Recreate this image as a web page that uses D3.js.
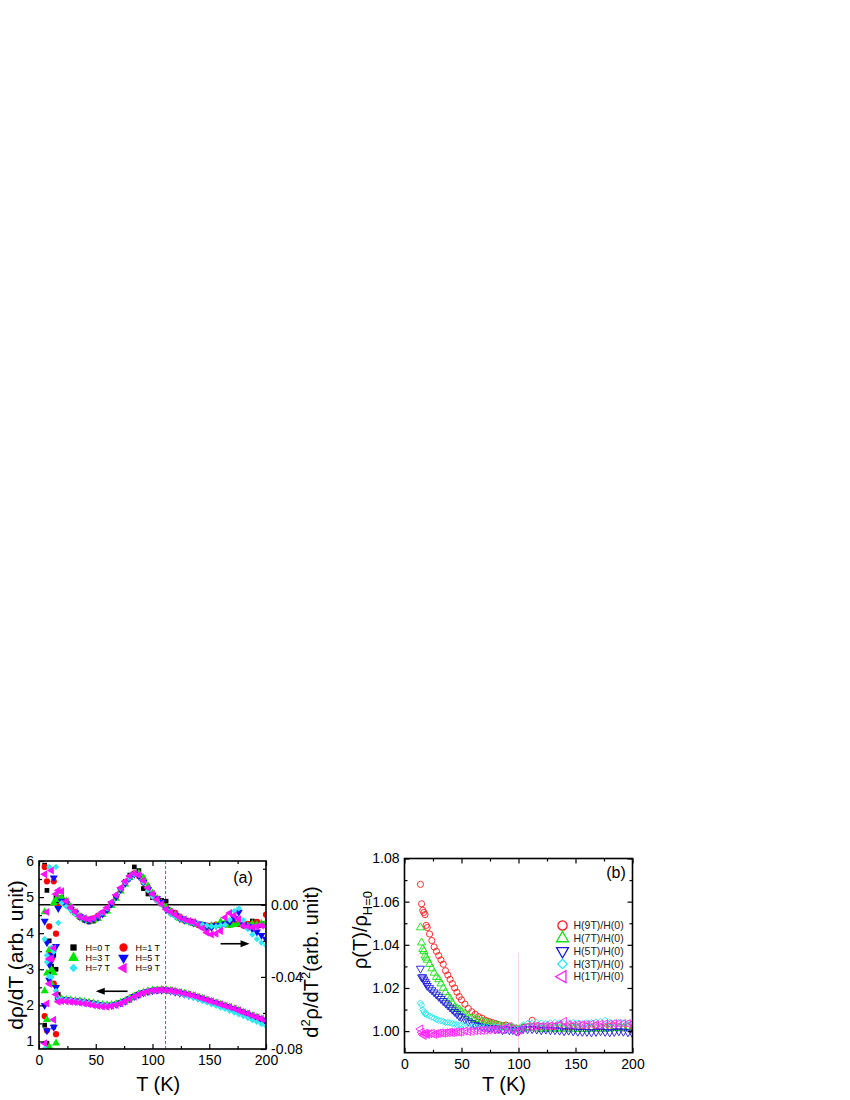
<!DOCTYPE html>
<html>
<head>
<meta charset="utf-8">
<script src="https://cdn.jsdelivr.net/npm/d3@7"></script>
<style>
  body { margin: 0; background: #fff; }
  svg { display: block; font-family: "Liberation Sans", Arial, sans-serif; }
</style>
</head>
<body>
<div id="chart"></div>
<script>
// ---------- panel (a): drho/dT (left axis) and d2rho/dT2 (right axis) ----------
const tempA = [5, 7, 9, 11, 13, 15, 17, 20, 24, 28, 32, 36, 40, 44, 48, 52, 56, 60, 64, 68, 72, 76, 80, 84, 88, 92, 96,
  100, 104, 108, 112, 116, 120, 124, 128, 132, 136, 140, 144, 148, 152, 156, 160, 164, 168, 172, 176, 180, 184, 188, 192, 196, 200];

const dRhoH0 = [1.45, 0.95, 2.9, 3.5, 1.4, 3.0, 2.3,
  2.17, 2.16, 2.14, 2.13, 2.12, 2.10, 2.08, 2.06, 2.03, 2.01, 2.00, 2.01, 2.04, 2.08, 2.13, 2.19, 2.26, 2.31, 2.36, 2.39,
  2.41, 2.42, 2.43, 2.42, 2.40, 2.37, 2.35, 2.32, 2.29, 2.25, 2.21, 2.17, 2.13, 2.09, 2.05, 2.01, 1.97, 1.93, 1.88, 1.84,
  1.79, 1.74, 1.69, 1.65, 1.60, 1.55];
const dRhoH1 = [1.7, 1.3, 3.4, 3.3, 2.6, 1.2, 2.2,
  2.16, 2.15, 2.14, 2.12, 2.11, 2.09, 2.07, 2.05, 2.02, 2.00, 2.00, 2.01, 2.03, 2.07, 2.12, 2.19, 2.25, 2.31, 2.35, 2.39,
  2.41, 2.42, 2.43, 2.42, 2.40, 2.38, 2.35, 2.32, 2.29, 2.26, 2.22, 2.18, 2.14, 2.10, 2.06, 2.02, 1.98, 1.94, 1.89, 1.85,
  1.80, 1.75, 1.70, 1.66, 1.61, 1.57];
const dRhoH3 = [2.4, 1.6, 0.85, 2.6, 2.9, 0.95, 2.2,
  2.18, 2.16, 2.15, 2.13, 2.12, 2.10, 2.08, 2.06, 2.04, 2.02, 2.01, 2.02, 2.04, 2.08, 2.13, 2.20, 2.26, 2.32, 2.36, 2.40,
  2.42, 2.43, 2.44, 2.43, 2.41, 2.39, 2.36, 2.33, 2.30, 2.27, 2.23, 2.19, 2.15, 2.11, 2.07, 2.03, 1.99, 1.95, 1.90, 1.86,
  1.81, 1.76, 1.71, 1.67, 1.62, 1.58];
const dRhoH5 = [2.0, 1.3, 2.7, 3.3, 1.4, 2.5, 2.15,
  2.16, 2.15, 2.13, 2.12, 2.10, 2.09, 2.07, 2.04, 2.02, 2.00, 1.99, 2.00, 2.03, 2.07, 2.12, 2.18, 2.25, 2.30, 2.35, 2.38,
  2.41, 2.42, 2.42, 2.42, 2.40, 2.37, 2.34, 2.31, 2.28, 2.25, 2.21, 2.17, 2.13, 2.09, 2.05, 2.01, 1.97, 1.92, 1.88, 1.83,
  1.78, 1.73, 1.68, 1.64, 1.59, 1.54];
const dRhoH7 = [0.8, 3.2, 2.8, 3.6, 3.5, 2.4, 2.2,
  2.17, 2.16, 2.14, 2.13, 2.11, 2.10, 2.07, 2.05, 2.03, 2.01, 2.00, 2.01, 2.03, 2.07, 2.12, 2.19, 2.25, 2.31, 2.35, 2.39,
  2.41, 2.42, 2.42, 2.41, 2.39, 2.36, 2.33, 2.29, 2.25, 2.21, 2.17, 2.12, 2.08, 2.03, 1.99, 1.94, 1.90, 1.85, 1.80, 1.75,
  1.70, 1.65, 1.59, 1.54, 1.48, 1.43];
const dRhoH9 = [0.95, 2.05, 2.6, 3.3, 1.6, 2.3, 2.1,
  2.12, 2.11, 2.10, 2.09, 2.07, 2.05, 2.03, 2.00, 1.98, 1.97, 1.96, 1.98, 2.01, 2.05, 2.11, 2.17, 2.24, 2.30, 2.34, 2.38,
  2.41, 2.42, 2.43, 2.42, 2.41, 2.38, 2.36, 2.33, 2.30, 2.27, 2.23, 2.19, 2.15, 2.11, 2.07, 2.03, 1.99, 1.95, 1.91, 1.86,
  1.81, 1.77, 1.72, 1.67, 1.63, 1.58];

const d2RhoH0 = [0.022, 0.008, -0.02, -0.034, -0.028, 0.004, 0.002,
  0.004, 0.0015, -0.002, -0.0045, -0.007, -0.0085, -0.0095, -0.009, -0.0075, -0.0055,
  -0.003, 0.0005, 0.0045, 0.0085, 0.013, 0.0165, 0.021, 0.019, 0.009, 0.006,
  0.004, 0.0035, 0.0025, 0.002, -0.0045, -0.006, -0.007, -0.0085, -0.009, -0.0095,
  -0.0105, -0.012, -0.013, -0.012, -0.0115, -0.011, -0.0105, -0.011, -0.0105, -0.011,
  -0.0115, -0.011, -0.009, -0.0095, -0.0115, -0.0105];
const d2RhoH1 = [0.021, 0.013, -0.012, -0.03, 0.013, -0.016, -0.001,
  0.003, 0.0015, -0.002, -0.004, -0.0065, -0.0075, -0.008, -0.0075, -0.006, -0.0045,
  -0.0025, 0.0005, 0.0045, 0.0085, 0.0125, 0.0155, 0.0175, 0.016, 0.0125, 0.0085,
  0.005, 0.0025, 0.0005, -0.0015, -0.0035, -0.0045, -0.0065, -0.0085, -0.009, -0.0095,
  -0.011, -0.011, -0.0115, -0.0115, -0.011, -0.011, -0.0105, -0.011, -0.0105, -0.0105,
  -0.0115, -0.0105, -0.0105, -0.0095, -0.0105, -0.0055];
const d2RhoH3 = [-0.004, -0.038, -0.025, -0.036, 0.001, 0.0028, 0.004,
  0.004, 0.002, -0.001, -0.0045, -0.0065, -0.008, -0.009, -0.0085, -0.0075, -0.0055,
  -0.0035, -0.0005, 0.0035, 0.0075, 0.0115, 0.015, 0.017, 0.0175, 0.015, 0.0105,
  0.0065, 0.0035, 0.001, -0.0015, -0.0035, -0.0055, -0.0075, -0.0085, -0.0095, -0.0105,
  -0.011, -0.0115, -0.0125, -0.0115, -0.0115, -0.0095, -0.0105, -0.0115, -0.011, -0.0105,
  -0.011, -0.0115, -0.0105, -0.011, -0.0105, -0.01];
const d2RhoH5 = [-0.009, -0.021, -0.033, -0.028, 0.015, -0.023, -0.002,
  0.002, 0.0005, -0.0025, -0.0045, -0.0065, -0.008, -0.0085, -0.008, -0.007, -0.005,
  -0.0025, 0.0005, 0.0045, 0.0085, 0.012, 0.015, 0.017, 0.016, 0.0125, 0.0085,
  0.0055, 0.0035, 0.0015, -0.0025, -0.0045, -0.006, -0.0075, -0.0085, -0.009, -0.01,
  -0.0105, -0.011, -0.012, -0.0125, -0.0115, -0.0115, -0.0105, -0.0095, -0.0075, -0.004,
  -0.011, -0.012, -0.0135, -0.015, -0.017, -0.019];
const d2RhoH7 = [-0.019, -0.028, 0.021, -0.04, -0.026, 0.021, -0.01,
  0.001, -0.001, -0.003, -0.005, -0.0065, -0.0075, -0.008, -0.0075, -0.006, -0.0045,
  -0.002, 0.0015, 0.0055, 0.009, 0.0125, 0.015, 0.017, 0.0165, 0.0125, 0.008,
  0.0045, 0.002, 0.0, -0.0025, -0.005, -0.0065, -0.0075, -0.0085, -0.0095, -0.010,
  -0.0105, -0.011, -0.0115, -0.012, -0.012, -0.0115, -0.011, -0.0085, -0.0035, -0.002,
  -0.0085, -0.0135, -0.0165, -0.019, -0.021, -0.0225];
const d2RhoH9 = [0.017, -0.004, -0.03, 0.019, -0.024, 0.006, 0.008,
  0.0075, 0.002, -0.0015, -0.004, -0.0065, -0.0075, -0.008, -0.0075, -0.006, -0.004,
  -0.0015, 0.0015, 0.0055, 0.0095, 0.013, 0.016, 0.0175, 0.0165, 0.0135, 0.0095,
  0.006, 0.003, 0.0005, -0.0025, -0.004, -0.0055, -0.007, -0.008, -0.009, -0.0095,
  -0.011, -0.013, -0.0155, -0.0165, -0.016, -0.0145, -0.007, -0.0045, -0.006, -0.008,
  -0.0115, -0.012, -0.0125, -0.012, -0.0115, -0.012];

const labelsA = ['H=0 T', 'H=1 T', 'H=3 T', 'H=5 T', 'H=7 T', 'H=9 T'];
const ticksAx = [0, 50, 100, 150, 200];
const ticksAleft = [1, 2, 3, 4, 5, 6];
const ticksAright = [0, -0.04, -0.08];
const transitionA = 111.5;

// ---------- panel (b): rho(T) / rho(H=0) ----------
const tempB = [14, 15, 16, 17, 18, 19, 20,
  22, 24, 26, 28, 30, 32, 34, 36, 38, 40, 42, 44, 46, 48, 50,
  53, 56, 59, 62, 65, 68, 71, 74, 77, 80, 83, 86, 89, 92, 95, 98, 101,
  104, 108, 112, 116, 120, 124, 128, 132, 136, 140, 144, 148, 152, 156, 160, 164, 168, 172, 176, 180, 184, 188, 192, 196, 200];

const ratioH9 = [1.068, 1.059, 1.056, 1.055, 1.054, 1.049, 1.048,
  1.045, 1.042, 1.039, 1.037, 1.035, 1.033, 1.031, 1.028, 1.026, 1.024, 1.022, 1.020, 1.018, 1.016, 1.0145,
  1.0125, 1.0105, 1.009, 1.0078, 1.0067, 1.006, 1.005, 1.0045, 1.004, 1.0035, 1.003, 1.0025, 1.0028, 1.002, 1.0015, 1.0012, 1.001,
  1.0018, 1.002, 1.005, 1.0025, 1.0022, 1.002, 1.002, 1.0022, 1.0025, 1.002, 1.002, 1.0022, 1.002, 1.0025, 1.0022,
  1.002, 1.0025, 1.002, 1.002, 1.0022, 1.0025, 1.002, 1.0015, 1.002, 1.0005];
const ratioH7 = [1.048, 1.041, 1.038, 1.037, 1.035, 1.034, 1.033,
  1.031, 1.029, 1.027, 1.025, 1.024, 1.022, 1.020, 1.018, 1.016, 1.015, 1.013, 1.011, 1.0105, 1.010, 1.009,
  1.008, 1.007, 1.006, 1.0055, 1.005, 1.0045, 1.004, 1.0035, 1.003, 1.003, 1.0025, 1.002, 1.002, 1.0018, 1.0015, 1.001, 1.0008,
  1.0015, 1.0015, 1.0015, 1.0012, 1.001, 1.001, 1.0012, 1.001, 1.0012, 1.001, 1.001, 1.0008, 1.001, 1.001, 1.0008,
  1.001, 1.0012, 1.001, 1.001, 1.0012, 1.0015, 1.0012, 1.0015, 1.002, 1.0015];
const ratioH5 = [1.029, 1.025, 1.025, 1.024, 1.023, 1.022, 1.021,
  1.020, 1.019, 1.018, 1.017, 1.016, 1.015, 1.014, 1.013, 1.012, 1.011, 1.010, 1.009, 1.008, 1.007, 1.0065,
  1.0055, 1.0045, 1.0038, 1.003, 1.0025, 1.002, 1.002, 1.0015, 1.0015, 1.001, 1.001, 1.0005, 1.001, 1.0005, 1.0005, 1.0, 1.0005,
  1.001, 1.001, 1.001, 1.0008, 1.0005, 1.0008, 1.0005, 1.0005, 1.0003, 1.0, 1.0003, 1.0, 0.9998, 0.9997, 0.9997,
  0.9995, 0.9997, 1.0, 0.9997, 0.9995, 0.9997, 1.0, 0.9998, 0.9995, 0.999];
const ratioH3 = [1.013, 1.012, 1.010, 1.009, 1.008, 1.008, 1.0075,
  1.007, 1.0065, 1.006, 1.0055, 1.005, 1.0048, 1.0045, 1.004, 1.004, 1.0038, 1.0035, 1.0032, 1.003, 1.003, 1.0028,
  1.0025, 1.0022, 1.002, 1.002, 1.0018, 1.002, 1.002, 1.0018, 1.002, 1.002, 1.0018, 1.0015, 1.002, 1.0012, 1.001, 1.0008, 1.001,
  1.003, 1.0035, 1.0038, 1.004, 1.0038, 1.0035, 1.0038, 1.004, 1.0038, 1.0035, 1.0038, 1.004, 1.0038, 1.0035, 1.0038,
  1.004, 1.0042, 1.0045, 1.005, 1.004, 1.0038, 1.004, 1.0038, 1.0035, 1.0035];
const ratioH1 = [1.001, 0.9995, 0.9985, 0.998, 0.999, 0.9988, 0.9985,
  0.9988, 0.999, 0.9985, 0.9988, 0.999, 0.9992, 0.999, 0.9992, 0.9993, 0.9995, 0.9993, 0.9995, 0.9997, 0.9995, 0.9997,
  1.0, 0.9998, 1.0, 1.0002, 1.0003, 1.0003, 1.0005, 1.0005, 1.0007, 1.0008, 1.001, 1.0007, 1.0015, 1.0022, 1.001, 0.9995, 1.0005,
  1.0015, 1.002, 1.002, 1.0022, 1.0022, 1.0025, 1.0025, 1.0025, 1.003, 1.0045, 1.003, 1.0028, 1.003, 1.003, 1.003,
  1.0032, 1.003, 1.0032, 1.0033, 1.0033, 1.0035, 1.0035, 1.0035, 1.0035, 1.0035];

const labelsB = ['H(9T)/H(0)', 'H(7T)/H(0)', 'H(5T)/H(0)', 'H(3T)/H(0)', 'H(1T)/H(0)'];
const ticksBx = [0, 50, 100, 150, 200];
const ticksBy = [1.00, 1.02, 1.04, 1.06, 1.08];
const transitionB = 100;

// ---------- drawing ----------
const svg = d3.select('#chart').append('svg').attr('width', 850).attr('height', 1100);

const shapes = { square: d3.symbolSquare, circle: d3.symbolCircle, diamond: d3.symbolSquare,
  up: d3.symbolTriangle, down: d3.symbolTriangle, left: d3.symbolTriangle };
const turns = { square: 0, circle: 0, diamond: 45, up: 0, down: 180, left: -90 };
const sizes = { square: 22, circle: 30, diamond: 20, up: 28, down: 28, left: 28 };

function marker(shape, scale) {
  return d3.symbol().type(shapes[shape]).size(sizes[shape] * scale)();
}

function styleAxis(g) {
  g.attr('font-family', null).attr('font-size', 14);
  g.select('.domain').remove();
  g.selectAll('.tick line').attr('stroke-width', 1.2);
  g.selectAll('.tick text').attr('fill', '#000');
}

function addAxis(gen, tx, ty) {
  svg.append('g').attr('transform', `translate(${tx},${ty})`).call(gen).call(styleAxis);
}

function frame(x, y) {
  const [x0, x1] = x.range(), [y0, y1] = y.range();
  svg.append('rect').attr('x', x0).attr('y', y1).attr('width', x1 - x0).attr('height', y0 - y1)
    .attr('fill', 'none').attr('stroke', '#000').attr('stroke-width', 1.6);
}

function xTicks(x, y, major, minor) {
  const [y0, y1] = y.range();
  addAxis(d3.axisBottom(x).tickValues(major).tickSize(-5).tickPadding(6).tickFormat(d3.format('d')), 0, y0);
  addAxis(d3.axisBottom(x).tickValues(minor).tickSize(-3).tickFormat(''), 0, y0);
  addAxis(d3.axisTop(x).tickValues(major).tickSize(-5).tickFormat(''), 0, y1);
  addAxis(d3.axisTop(x).tickValues(minor).tickSize(-3).tickFormat(''), 0, y1);
}

function arrow(x1, y1, x2, y2) {
  const dir = Math.sign(x2 - x1);
  svg.append('line').attr('x1', x1).attr('y1', y1).attr('x2', x2 - dir * 6).attr('y2', y2)
    .attr('stroke', '#000').attr('stroke-width', 1.6);
  svg.append('path').attr('d', `M${x2},${y2}L${x2 - dir * 9},${y2 - 3.5}L${x2 - dir * 9},${y2 + 3.5}Z`).attr('fill', '#000');
}

// ----- panel (a) -----
const xA = d3.scaleLinear().domain([0, 200]).range([39, 266]);
const yA = d3.scaleLinear().domain([0.79, 6]).range([1049, 861]);
const yA2 = d3.scaleLinear().domain([-0.08, 0.0243]).range([1049, 861]);

const seriesA = [
  { name: labelsA[0], color: '#000000', shape: 'square', first: dRhoH0, second: d2RhoH0 },
  { name: labelsA[1], color: '#ff0000', shape: 'circle', first: dRhoH1, second: d2RhoH1 },
  { name: labelsA[2], color: '#00e600', shape: 'up', first: dRhoH3, second: d2RhoH3 },
  { name: labelsA[3], color: '#0a0aff', shape: 'down', first: dRhoH5, second: d2RhoH5 },
  { name: labelsA[4], color: '#2ee8f2', shape: 'diamond', first: dRhoH7, second: d2RhoH7 },
  { name: labelsA[5], color: '#ff10ff', shape: 'left', first: dRhoH9, second: d2RhoH9 }
];

svg.append('clipPath').attr('id', 'clipA').append('rect')
  .attr('x', 39).attr('y', 861).attr('width', 227).attr('height', 188);
svg.append('clipPath').attr('id', 'clipB').append('rect')
  .attr('x', 404.5).attr('y', 858.5).attr('width', 228).attr('height', 194.2);

// zero line of right axis and transition marker
svg.append('line').attr('x1', xA(0)).attr('x2', xA(200)).attr('y1', yA2(0)).attr('y2', yA2(0))
  .attr('stroke', '#000').attr('stroke-width', 1.6);
svg.append('line').attr('x1', xA(transitionA)).attr('x2', xA(transitionA)).attr('y1', yA.range()[1]).attr('y2', yA.range()[0])
  .attr('stroke', '#e8336e').attr('stroke-width', 1).attr('stroke-dasharray', '3,2');

const plotA = svg.append('g').attr('clip-path', 'url(#clipA)');
seriesA.forEach(s => {
  const pts = tempA.map((t, i) => [xA(t), yA(s.first[i])])
    .concat(tempA.map((t, i) => [xA(t), yA2(s.second[i])]));
  plotA.append('g').selectAll('path').data(pts).join('path')
    .attr('d', marker(s.shape, 1))
    .attr('transform', d => `translate(${d[0]},${d[1]}) rotate(${turns[s.shape]})`)
    .attr('fill', s.color);
});

xTicks(xA, yA, ticksAx, [25, 75, 125, 175]);
addAxis(d3.axisLeft(yA).tickValues(ticksAleft).tickSize(-5).tickPadding(5).tickFormat(d3.format('d')), 39, 0);
addAxis(d3.axisLeft(yA).tickValues([1.5, 2.5, 3.5, 4.5, 5.5]).tickSize(-3).tickFormat(''), 39, 0);
addAxis(d3.axisRight(yA2).tickValues(ticksAright).tickSize(-5).tickPadding(5).tickFormat(d => d.toFixed(2)), 266, 0);
addAxis(d3.axisRight(yA2).tickValues([0.02, -0.02, -0.06]).tickSize(-3).tickFormat(''), 266, 0);
frame(xA, yA);

// legend (a)
seriesA.forEach((s, i) => {
  const lx = 73.5 + (i % 2) * 50, ly = 947.5 + Math.floor(i / 2) * 10.3;
  svg.append('path').attr('d', marker(s.shape, 1.8))
    .attr('transform', `translate(${lx},${ly}) rotate(${turns[s.shape]})`).attr('fill', s.color);
  svg.append('text').attr('x', lx + 12).attr('y', ly).attr('dy', '0.35em')
    .attr('font-size', 9).text(s.name);
});

arrow(xA(78), yA(2.39), xA(50), yA(2.39));
arrow(xA(160), yA2(-0.0216), xA(185.5), yA2(-0.0216));

svg.append('text').attr('x', 243).attr('y', 883).attr('text-anchor', 'middle').attr('font-size', 16).text('(a)');
svg.append('text').attr('x', xA(105)).attr('y', 1091).attr('text-anchor', 'middle').attr('font-size', 20).text('T (K)');
svg.append('text').attr('transform', 'translate(23,955) rotate(-90)').attr('text-anchor', 'middle')
  .attr('font-size', 21).text('dρ/dT (arb. unit)');
const rt = svg.append('text').attr('transform', 'translate(318,962) rotate(-90)')
  .attr('text-anchor', 'middle').attr('font-size', 20);
rt.append('tspan').text('d');
rt.append('tspan').attr('dy', -8).attr('font-size', 13).text('2');
rt.append('tspan').attr('dy', 8).text('ρ/dT');
rt.append('tspan').attr('dy', -8).attr('font-size', 13).text('2');
rt.append('tspan').attr('dy', 8).text('(arb. unit)');

// ----- panel (b) -----
const xB = d3.scaleLinear().domain([0, 200]).range([404.5, 632.5]);
const yB = d3.scaleLinear().domain([0.99, 1.08]).range([1052.7, 858.5]);

const seriesB = [
  { name: labelsB[0], color: '#ff1a1a', shape: 'circle', values: ratioH9 },
  { name: labelsB[1], color: '#16e016', shape: 'up', values: ratioH7 },
  { name: labelsB[2], color: '#1a1ad6', shape: 'down', values: ratioH5 },
  { name: labelsB[3], color: '#2ee6f2', shape: 'diamond', values: ratioH3 },
  { name: labelsB[4], color: '#ff20ff', shape: 'left', values: ratioH1 }
];

svg.append('line').attr('x1', xB(transitionB)).attr('x2', xB(transitionB)).attr('y1', yB(1.036)).attr('y2', yB(0.99))
  .attr('stroke', '#f29ab4').attr('stroke-width', 0.8).attr('stroke-dasharray', '1,1');

const plotB = svg.append('g').attr('clip-path', 'url(#clipB)');
seriesB.forEach(s => {
  plotB.append('g').selectAll('path').data(tempB.map((t, i) => [t, s.values[i]])).join('path')
    .attr('d', marker(s.shape, 1))
    .attr('transform', d => `translate(${xB(d[0])},${yB(d[1])}) rotate(${turns[s.shape]})`)
    .attr('fill', 'none').attr('stroke', s.color).attr('stroke-width', 0.9);
});

xTicks(xB, yB, ticksBx, [25, 75, 125, 175]);
addAxis(d3.axisLeft(yB).tickValues(ticksBy).tickSize(-5).tickPadding(5).tickFormat(d => d.toFixed(2)), 404.5, 0);
addAxis(d3.axisLeft(yB).tickValues([1.01, 1.03, 1.05, 1.07]).tickSize(-3).tickFormat(''), 404.5, 0);
addAxis(d3.axisRight(yB).tickValues(ticksBy).tickSize(-5).tickFormat(''), 632.5, 0);
addAxis(d3.axisRight(yB).tickValues([1.01, 1.03, 1.05, 1.07]).tickSize(-3).tickFormat(''), 632.5, 0);
frame(xB, yB);

// legend (b)
seriesB.forEach((s, i) => {
  const lx = 562.5, ly = 925.5 + i * 12.8;
  svg.append('path').attr('d', marker(s.shape, 2.2))
    .attr('transform', `translate(${lx},${ly}) rotate(${turns[s.shape]})`)
    .attr('fill', 'none').attr('stroke', s.color).attr('stroke-width', 1.3);
  svg.append('text').attr('x', lx + 11).attr('y', ly).attr('dy', '0.35em')
    .attr('font-size', 10.5).attr('fill', '#222').text(s.name);
});

svg.append('text').attr('x', 616).attr('y', 878).attr('text-anchor', 'middle').attr('font-size', 16).text('(b)');
svg.append('text').attr('x', 504).attr('y', 1091).attr('text-anchor', 'middle').attr('font-size', 20).text('T (K)');
const bt = svg.append('text').attr('transform', 'translate(367,930) rotate(-90)')
  .attr('text-anchor', 'middle').attr('font-size', 20);
bt.append('tspan').text('ρ(T)/ρ');
bt.append('tspan').attr('dy', 5).attr('font-size', 13).text('H=0');
</script>
</body>
</html>
